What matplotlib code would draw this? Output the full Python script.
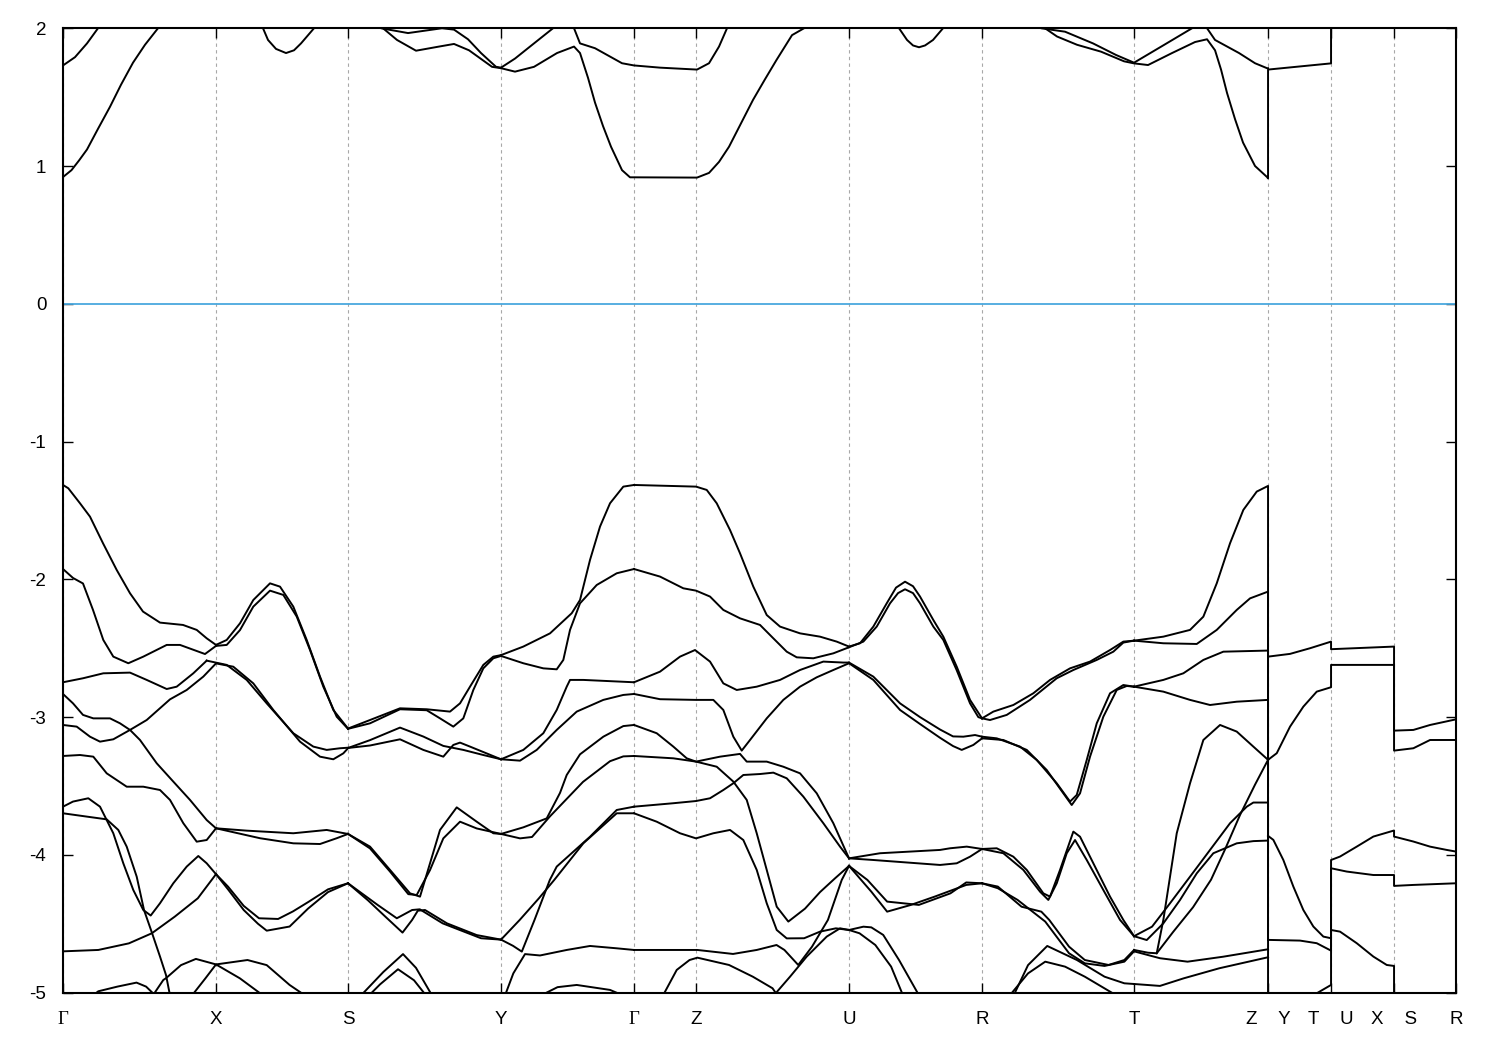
import matplotlib
matplotlib.use("Agg")
import matplotlib.pyplot as plt

plt.rcParams['font.family'] = ['Liberation Sans', 'DejaVu Sans']
plt.rcParams['axes.unicode_minus'] = False

# high-symmetry points along the k-path (arbitrary distance units)
kpts = [0.0, 1.53, 2.85, 4.38, 5.71, 6.33, 7.86, 9.19, 10.71, 12.05, 12.68, 13.31, 13.93]
klabels = ['Γ', 'X', 'S', 'Y', 'Γ', 'Z', 'U', 'R', 'T', 'Z    Y', 'T    U', 'X    S', 'R']

# ---- conduction bands (k, E) ----
cb_g1 = [(0.00, 1.73), (0.12, 1.79), (0.24, 1.89), (0.35, 2.00), (0.45, 2.10)]
cb_g2 = [(0.00, 0.92), (0.085, 0.97), (0.16, 1.04), (0.24, 1.12), (0.35, 1.27), (0.47, 1.43), (0.58, 1.59),
         (0.70, 1.75), (0.82, 1.88), (0.95, 2.00), (1.05, 2.10)]
cb_xs = [(1.93, 2.10), (2.00, 2.00), (2.05, 1.915), (2.13, 1.85), (2.23, 1.82), (2.31, 1.84), (2.38, 1.89),
         (2.51, 2.00), (2.58, 2.10)]
cb_sy1 = [(3.10, 2.10), (3.18, 2.00), (3.45, 1.965), (3.79, 2.00), (3.91, 1.99), (4.05, 1.92), (4.18, 1.82),
          (4.33, 1.72), (4.38, 1.714)]
cb_sy2 = [(3.15, 2.10), (3.20, 2.00), (3.34, 1.915), (3.53, 1.837), (3.76, 1.867), (3.91, 1.886), (4.06, 1.84),
          (4.29, 1.72), (4.38, 1.71)]
cb_yg = [(4.38, 1.714), (4.52, 1.78), (4.67, 1.867), (4.90, 2.00), (5.00, 2.10)]
cb_low = [(4.38, 1.71), (4.52, 1.685), (4.71, 1.72), (4.94, 1.82), (5.11, 1.867), (5.17, 1.82), (5.25, 1.64),
          (5.32, 1.46), (5.40, 1.29), (5.48, 1.14), (5.59, 0.97), (5.67, 0.918), (5.71, 0.918), (6.34, 0.916),
          (6.46, 0.95), (6.56, 1.03), (6.66, 1.14), (6.78, 1.31), (6.90, 1.48), (7.02, 1.63), (7.135, 1.77),
          (7.29, 1.95), (7.41, 2.00), (7.50, 2.08)]
cb_gz = [(5.08, 2.05), (5.11, 2.00), (5.17, 1.89), (5.32, 1.855), (5.59, 1.746), (5.71, 1.73), (5.97, 1.714),
         (6.34, 1.70), (6.46, 1.746), (6.56, 1.867), (6.64, 2.00), (6.70, 2.10)]
cb_ur = [(8.30, 2.10), (8.36, 2.00), (8.44, 1.915), (8.50, 1.875), (8.56, 1.862), (8.62, 1.875), (8.70, 1.915),
         (8.80, 2.00), (8.86, 2.10)]
cb_rt1 = [(9.70, 2.10), (9.78, 2.00), (10.02, 1.975), (10.30, 1.89), (10.53, 1.806), (10.71, 1.75),
          (11.01, 1.879), (11.29, 2.00), (11.40, 2.10)]
cb_rt2 = [(9.74, 2.10), (9.82, 2.00), (9.94, 1.94), (10.14, 1.88), (10.38, 1.83), (10.61, 1.76), (10.71, 1.745),
          (10.85, 1.733), (11.09, 1.82), (11.32, 1.90), (11.44, 1.92), (11.52, 1.84), (11.58, 1.70),
          (11.64, 1.53), (11.72, 1.34), (11.80, 1.17), (11.92, 1.00), (12.04, 0.92), (12.05, 0.91),
          (12.05, 1.70), (12.68, 1.745), (12.68, 2.20)]
cb_tz = [(11.40, 2.05), (11.44, 2.00), (11.52, 1.915), (11.76, 1.82), (11.92, 1.746), (12.04, 1.71), (12.05, 1.71)]

# ---- valence bands: Gamma - X ----
vgx1 = [(0.00, -1.315), (0.053, -1.339), (0.17, -1.448), (0.27, -1.545), (0.40, -1.738), (0.537, -1.932),
        (0.67, -2.101), (0.80, -2.234), (0.97, -2.314), (1.20, -2.331), (1.337, -2.367), (1.437, -2.428),
        (1.53, -2.476)]
vgx2 = [(0.00, -1.925), (0.10, -1.99), (0.20, -2.03), (0.30, -2.222), (0.403, -2.44), (0.503, -2.561),
        (0.653, -2.609), (0.803, -2.561), (1.037, -2.476), (1.17, -2.476), (1.42, -2.542), (1.53, -2.483)]
vgx3 = [(0.00, -2.747), (0.20, -2.718), (0.403, -2.682), (0.67, -2.677), (0.837, -2.73), (1.037, -2.796),
        (1.137, -2.779), (1.303, -2.682), (1.437, -2.59)]
vgx4 = [(0.00, -3.057), (0.137, -3.069), (0.27, -3.142), (0.37, -3.178), (0.503, -3.161), (0.67, -3.093),
        (0.837, -3.021), (1.07, -2.871), (1.237, -2.803), (1.403, -2.706), (1.53, -2.61)]
vgx5 = [(0.00, -2.832), (0.10, -2.90), (0.20, -2.984), (0.303, -3.009), (0.47, -3.009), (0.57, -3.045),
        (0.67, -3.093), (0.77, -3.166), (0.937, -3.335), (1.103, -3.468), (1.27, -3.601), (1.437, -3.747),
        (1.53, -3.807)]
vgx6 = [(0.00, -3.282), (0.17, -3.275), (0.303, -3.287), (0.437, -3.408), (0.637, -3.505), (0.803, -3.505),
        (0.97, -3.529), (1.07, -3.601), (1.203, -3.77), (1.337, -3.904), (1.437, -3.892), (1.53, -3.807)]
vgx7 = [(0.00, -3.65), (0.10, -3.613), (0.253, -3.589), (0.37, -3.65), (0.503, -3.843), (0.603, -4.061),
        (0.703, -4.255), (0.803, -4.40), (0.877, -4.44), (0.97, -4.351), (1.103, -4.206), (1.237, -4.085),
        (1.353, -4.008), (1.437, -4.061), (1.53, -4.14)]
vgx8 = [(0.00, -3.698), (0.237, -3.722), (0.437, -3.742), (0.553, -3.819), (0.637, -3.94), (0.737, -4.158),
        (0.81, -4.40), (0.887, -4.56), (0.97, -4.738), (1.03, -4.872), (1.07, -5.02)]
vgx9 = [(0.00, -4.70), (0.353, -4.69), (0.659, -4.642), (0.888, -4.569), (1.118, -4.448), (1.348, -4.315),
        (1.53, -4.14)]
vgx10 = [(0.30, -5.02), (0.353, -4.99), (0.544, -4.956), (0.735, -4.927), (0.831, -4.956), (0.908, -5.01),
         (1.003, -4.908), (1.03, -4.895), (1.18, -4.80), (1.329, -4.755), (1.53, -4.795), (1.769, -4.896),
         (2.00, -5.02)]
vgx11 = [(1.29, -5.02), (1.424, -4.896), (1.53, -4.795), (1.845, -4.763), (2.037, -4.80), (2.266, -4.944),
         (2.42, -5.02)]

# ---- X - S ----
vxs1 = [(1.53, -2.476), (1.637, -2.44), (1.77, -2.319), (1.903, -2.15), (2.07, -2.029), (2.17, -2.053),
        (2.303, -2.198), (2.437, -2.44), (2.57, -2.706), (2.703, -2.948), (2.85, -3.083)]
vxs2 = [(1.53, -2.483), (1.637, -2.476), (1.77, -2.368), (1.903, -2.198), (2.07, -2.082), (2.203, -2.113),
        (2.337, -2.27), (2.47, -2.513), (2.603, -2.779), (2.737, -2.997), (2.85, -3.085)]
vxs3 = [(1.437, -2.59), (1.637, -2.621), (1.837, -2.73), (2.037, -2.90), (2.303, -3.117), (2.503, -3.214),
        (2.637, -3.238), (2.77, -3.226), (2.85, -3.222)]
vxs4 = [(1.53, -2.61), (1.703, -2.634), (1.903, -2.755), (2.103, -2.948), (2.37, -3.178), (2.57, -3.287),
        (2.703, -3.306), (2.803, -3.263), (2.85, -3.226)]
vxs5 = [(1.53, -3.807), (1.837, -3.824), (2.303, -3.843), (2.637, -3.819), (2.85, -3.848)]
vxs6 = [(1.53, -3.807), (1.97, -3.879), (2.303, -3.916), (2.57, -3.921), (2.737, -3.879), (2.85, -3.848)]
vxs7 = [(1.53, -4.14), (1.65, -4.23), (1.807, -4.37), (1.96, -4.46), (2.151, -4.465), (2.30, -4.41),
        (2.457, -4.34), (2.65, -4.25), (2.85, -4.206)]
vxs8 = [(1.53, -4.14), (1.65, -4.25), (1.807, -4.40), (1.95, -4.50), (2.037, -4.55), (2.266, -4.52),
        (2.45, -4.39), (2.65, -4.27), (2.85, -4.206)]

# ---- S - Y ----
vsy1 = [(2.85, -3.083), (3.07, -3.021), (3.37, -2.936), (3.637, -2.943), (3.87, -2.96), (3.97, -2.90),
        (4.07, -2.779), (4.203, -2.621), (4.303, -2.561), (4.38, -2.55)]
vsy2 = [(2.85, -3.085), (3.07, -3.045), (3.37, -2.943), (3.637, -2.95), (3.77, -3.009), (3.903, -3.069),
        (4.003, -3.009), (4.103, -2.803), (4.203, -2.646), (4.303, -2.573), (4.38, -2.556)]
vsy3 = [(2.85, -3.224), (3.07, -3.167), (3.37, -3.076), (3.603, -3.141), (3.803, -3.209), (4.003, -3.238),
        (4.203, -3.275), (4.38, -3.306)]
vsy4 = [(2.85, -3.224), (3.07, -3.206), (3.37, -3.161), (3.603, -3.238), (3.803, -3.287), (3.903, -3.202),
        (3.97, -3.185), (4.07, -3.214), (4.38, -3.306)]
vsy5 = [(2.85, -3.848), (3.07, -3.94), (3.27, -4.109), (3.47, -4.279), (3.57, -4.303), (3.67, -4.061),
        (3.77, -3.819), (3.937, -3.655), (4.137, -3.759), (4.303, -3.843), (4.38, -3.848)]
vsy6 = [(2.85, -3.848), (3.07, -3.953), (3.27, -4.121), (3.453, -4.285), (3.537, -4.291), (3.67, -4.11),
        (3.803, -3.88), (3.97, -3.759), (4.137, -3.808), (4.38, -3.848)]
vsy7 = [(2.85, -4.206), (3.146, -4.363), (3.338, -4.46), (3.491, -4.40), (3.568, -4.395), (3.797, -4.497),
        (4.18, -4.605), (4.38, -4.615)]
vsy8 = [(2.85, -4.206), (3.05, -4.33), (3.223, -4.448), (3.395, -4.564), (3.491, -4.472), (3.548, -4.405),
        (3.62, -4.40), (3.84, -4.497), (4.137, -4.582), (4.38, -4.615)]
vsy9 = [(2.98, -5.02), (3.203, -4.85), (3.40, -4.72), (3.53, -4.82), (3.69, -5.02)]
vsy10 = [(3.06, -5.02), (3.17, -4.94), (3.35, -4.83), (3.51, -4.91), (3.63, -5.02)]

# ---- Y - Gamma ----
vyg1 = [(4.38, -2.55), (4.603, -2.488), (4.87, -2.392), (5.087, -2.246), (5.17, -2.15), (5.27, -1.859),
        (5.37, -1.617), (5.47, -1.448), (5.603, -1.327), (5.71, -1.315)]
vyg2 = [(4.38, -2.556), (4.603, -2.609), (4.803, -2.646), (4.937, -2.653), (5.003, -2.585), (5.07, -2.367),
        (5.17, -2.174), (5.337, -2.041), (5.537, -1.956), (5.71, -1.925)]
vyg3 = [(4.38, -3.306), (4.603, -3.238), (4.803, -3.117), (4.937, -2.948), (5.037, -2.779), (5.07, -2.73),
        (5.203, -2.73), (5.71, -2.747)]
vyg4 = [(4.38, -3.306), (4.57, -3.316), (4.737, -3.238), (4.937, -3.093), (5.137, -2.96), (5.403, -2.875),
        (5.603, -2.839), (5.71, -2.832)]
vyg5 = [(4.38, -3.848), (4.603, -3.80), (4.837, -3.735), (4.97, -3.55), (5.037, -3.42), (5.17, -3.27),
        (5.403, -3.142), (5.603, -3.065), (5.71, -3.057)]
vyg6 = [(4.38, -3.848), (4.57, -3.88), (4.69, -3.87), (4.87, -3.72), (5.20, -3.47), (5.47, -3.32),
        (5.603, -3.285), (5.71, -3.282)]
vyg7 = [(4.38, -4.615), (4.567, -4.472), (4.759, -4.315), (4.912, -4.182), (5.203, -3.916), (5.537, -3.698),
        (5.71, -3.698)]
vyg8 = [(4.38, -4.615), (4.50, -4.66), (4.588, -4.702), (4.715, -4.472), (4.868, -4.182), (4.937, -4.085),
        (5.27, -3.868), (5.537, -3.674), (5.71, -3.65)]
vyg9 = [(4.42, -5.02), (4.503, -4.86), (4.62, -4.72), (4.77, -4.73), (5.037, -4.69), (5.27, -4.661),
        (5.537, -4.678), (5.71, -4.69)]
vyg10 = [(4.78, -5.02), (4.945, -4.96), (5.137, -4.944), (5.47, -4.98), (5.60, -5.02)]

# ---- Gamma - Z - U ----
vzu1 = [(5.71, -1.315), (6.33, -1.327), (6.437, -1.351), (6.537, -1.448), (6.67, -1.642), (6.77, -1.811),
        (6.903, -2.053), (7.037, -2.259), (7.17, -2.343), (7.37, -2.392), (7.57, -2.416), (7.737, -2.452),
        (7.86, -2.488)]
vzu2 = [(5.71, -1.925), (5.97, -1.98), (6.203, -2.065), (6.33, -2.082), (6.47, -2.125), (6.603, -2.222),
        (6.77, -2.283), (6.97, -2.331), (7.103, -2.428), (7.237, -2.525), (7.337, -2.566), (7.503, -2.573),
        (7.703, -2.537), (7.86, -2.493)]
vzu3 = [(5.71, -2.747), (5.97, -2.67), (6.17, -2.561), (6.32, -2.513), (6.47, -2.597), (6.603, -2.755),
        (6.737, -2.803), (6.937, -2.779), (7.17, -2.73), (7.37, -2.658), (7.603, -2.597), (7.803, -2.604),
        (7.86, -2.604)]
vzu4 = [(5.71, -2.832), (5.97, -2.87), (6.33, -2.875), (6.503, -2.875), (6.603, -2.948), (6.703, -3.142),
        (6.787, -3.243), (6.87, -3.166), (7.037, -3.009), (7.203, -2.875), (7.37, -2.779), (7.537, -2.711),
        (7.703, -2.658), (7.86, -2.609)]
vzu5 = [(5.71, -3.057), (5.937, -3.117), (6.103, -3.214), (6.237, -3.299), (6.33, -3.323), (6.537, -3.36),
        (6.703, -3.468), (6.837, -3.601), (6.937, -3.843), (7.037, -4.109), (7.137, -4.376), (7.253, -4.484),
        (7.42, -4.39), (7.57, -4.27), (7.72, -4.17), (7.86, -4.08)]
vzu6 = [(5.71, -3.282), (6.103, -3.299), (6.33, -3.323), (6.57, -3.287), (6.77, -3.267), (6.837, -3.323),
        (7.037, -3.323), (7.203, -3.36), (7.37, -3.408), (7.537, -3.553), (7.703, -3.77), (7.837, -3.988),
        (7.86, -4.025)]
vzu7 = [(5.71, -3.65), (6.103, -3.625), (6.33, -3.609), (6.47, -3.589), (6.603, -3.529), (6.703, -3.48),
        (6.803, -3.42), (6.97, -3.413), (7.103, -3.403), (7.237, -3.444), (7.403, -3.577), (7.603, -3.77),
        (7.77, -3.94), (7.86, -4.025)]
vzu8 = [(5.71, -3.698), (5.937, -3.759), (6.17, -3.843), (6.33, -3.88), (6.503, -3.843), (6.67, -3.819),
        (6.803, -3.892), (6.937, -4.109), (7.037, -4.351), (7.137, -4.545), (7.237, -4.606), (7.411, -4.605),
        (7.57, -4.557), (7.728, -4.533), (7.86, -4.545)]
vzu9 = [(5.71, -4.69), (6.344, -4.69), (6.70, -4.719), (6.937, -4.69), (7.135, -4.654), (7.214, -4.69),
        (7.352, -4.799), (7.49, -4.666), (7.649, -4.472), (7.787, -4.182), (7.86, -4.08)]
vzu10 = [(6.00, -5.02), (6.137, -4.835), (6.265, -4.763), (6.344, -4.746), (6.66, -4.799), (6.898, -4.884),
         (7.095, -4.968), (7.135, -5.01)]
vzu11 = [(7.12, -5.01), (7.27, -4.884), (7.437, -4.738), (7.637, -4.593), (7.77, -4.533), (7.86, -4.545)]

# ---- U - R ----
vur1 = [(7.86, -2.488), (7.97, -2.464), (8.103, -2.343), (8.237, -2.174), (8.33, -2.06), (8.42, -2.017),
        (8.50, -2.05), (8.57, -2.125), (8.703, -2.295), (8.803, -2.416), (8.937, -2.634), (9.07, -2.875),
        (9.19, -3.009)]
vur2 = [(7.86, -2.493), (8.003, -2.452), (8.137, -2.343), (8.27, -2.174), (8.35, -2.10), (8.42, -2.072),
        (8.50, -2.10), (8.57, -2.174), (8.703, -2.343), (8.803, -2.44), (8.937, -2.66), (9.07, -2.90),
        (9.153, -3.00), (9.19, -3.009)]
vur3 = [(7.86, -2.604), (8.103, -2.706), (8.37, -2.90), (8.57, -3.00), (8.77, -3.09), (8.90, -3.14),
        (9.003, -3.142), (9.12, -3.13), (9.19, -3.142)]
vur4 = [(7.86, -2.609), (8.103, -2.73), (8.37, -2.948), (8.57, -3.05), (8.77, -3.15), (8.90, -3.21),
        (8.987, -3.238), (9.103, -3.202), (9.19, -3.154)]
vur5 = [(7.86, -4.025), (8.17, -3.988), (8.77, -3.964), (8.87, -3.952), (9.037, -3.94), (9.19, -3.957)]
vur6 = [(7.86, -4.025), (8.103, -4.037), (8.77, -4.073), (8.937, -4.061), (9.07, -4.013), (9.19, -3.957)]
vur7 = [(7.86, -4.08), (8.083, -4.267), (8.241, -4.412), (8.479, -4.363), (8.716, -4.303), (9.032, -4.218),
        (9.19, -4.206)]
vur8 = [(7.86, -4.08), (8.044, -4.182), (8.241, -4.339), (8.558, -4.363), (8.874, -4.279), (9.032, -4.20),
        (9.19, -4.206)]
vur9 = [(7.86, -4.545), (8.004, -4.521), (8.083, -4.526), (8.202, -4.581), (8.36, -4.763), (8.56, -5.02)]
vur10 = [(7.86, -4.545), (7.965, -4.569), (8.123, -4.654), (8.281, -4.811), (8.40, -5.02)]

# ---- R - T ----
vrt1 = [(9.19, -3.009), (9.27, -3.021), (9.437, -2.984), (9.67, -2.875), (9.937, -2.718), (10.103, -2.658),
        (10.337, -2.585), (10.503, -2.525), (10.603, -2.459), (10.71, -2.445)]
vrt2 = [(9.19, -3.009), (9.303, -2.96), (9.503, -2.912), (9.703, -2.827), (9.87, -2.73), (10.07, -2.646),
        (10.27, -2.597), (10.47, -2.513), (10.603, -2.452), (10.71, -2.445)]
vrt3 = [(9.19, -3.142), (9.337, -3.154), (9.57, -3.214), (9.737, -3.311), (9.937, -3.48), (10.07, -3.613),
        (10.137, -3.565), (10.237, -3.311), (10.337, -3.045), (10.47, -2.827), (10.603, -2.767), (10.71, -2.779)]
vrt4 = [(9.19, -3.154), (9.403, -3.166), (9.637, -3.238), (9.837, -3.384), (10.003, -3.553), (10.087, -3.638),
        (10.17, -3.553), (10.27, -3.287), (10.403, -2.997), (10.537, -2.803), (10.637, -2.774), (10.71, -2.779)]
vrt5 = [(9.19, -3.957), (9.337, -3.952), (9.503, -4.013), (9.637, -4.109), (9.803, -4.279), (9.87, -4.303),
        (9.97, -4.109), (10.103, -3.831), (10.17, -3.868), (10.303, -4.061), (10.47, -4.303), (10.603, -4.472),
        (10.71, -4.59)]
vrt6 = [(9.19, -3.957), (9.403, -3.988), (9.603, -4.109), (9.77, -4.267), (9.853, -4.327), (9.937, -4.206),
        (10.037, -3.988), (10.12, -3.892), (10.237, -4.037), (10.403, -4.255), (10.57, -4.472), (10.71, -4.59)]
vrt7 = [(9.19, -4.206), (9.348, -4.23), (9.585, -4.376), (9.783, -4.412), (9.862, -4.472), (10.06, -4.666),
        (10.218, -4.763), (10.455, -4.799), (10.613, -4.763), (10.71, -4.69)]
vrt8 = [(9.19, -4.206), (9.348, -4.242), (9.546, -4.327), (9.822, -4.484), (10.06, -4.714), (10.218, -4.787),
        (10.415, -4.806), (10.613, -4.775), (10.71, -4.70)]
vrt9 = [(9.506, -5.02), (9.65, -4.80), (9.842, -4.661), (10.139, -4.763), (10.415, -4.884), (10.613, -4.932),
        (10.71, -4.937)]
vrt10 = [(9.467, -5.02), (9.65, -4.86), (9.822, -4.775), (10.02, -4.811), (10.218, -4.884), (10.534, -5.02)]

# ---- T - Z ----
vtz1 = [(10.71, -2.445), (11.003, -2.416), (11.27, -2.367), (11.403, -2.271), (11.537, -2.029), (11.67, -1.738),
        (11.803, -1.496), (11.937, -1.363), (12.05, -1.322), (12.05, -2.561)]
vtz2 = [(10.71, -2.445), (11.003, -2.464), (11.337, -2.469), (11.537, -2.367), (11.737, -2.222), (11.87, -2.138),
        (12.05, -2.089), (12.05, -3.31)]
vtz3 = [(10.71, -2.779), (11.003, -2.73), (11.203, -2.682), (11.403, -2.585), (11.603, -2.525), (12.05, -2.517),
        (12.05, -3.862)]
vtz4 = [(10.71, -2.779), (11.003, -2.815), (11.27, -2.875), (11.47, -2.912), (11.737, -2.888), (12.05, -2.875),
        (12.05, -4.617)]
vtz5 = [(10.71, -4.59), (10.89, -4.521), (11.07, -4.351), (11.27, -4.158), (11.47, -3.964), (11.67, -3.77),
        (11.837, -3.65), (11.903, -3.62), (12.05, -3.62), (12.05, -5.20)]
vtz6 = [(10.71, -4.59), (10.837, -4.618), (11.003, -4.497), (11.17, -4.327), (11.337, -4.134), (11.503, -3.988),
        (11.737, -3.916), (11.903, -3.90), (12.05, -3.896)]
vtz7 = [(10.71, -4.69), (10.85, -4.71), (10.937, -4.714), (11.003, -4.472), (11.137, -3.843), (11.27, -3.48),
        (11.403, -3.166), (11.57, -3.057), (11.737, -3.105), (11.903, -3.214), (12.05, -3.31)]
vtz8 = [(10.937, -4.714), (11.10, -4.56), (11.30, -4.38), (11.48, -4.18), (11.62, -3.96), (11.77, -3.71),
        (11.92, -3.49), (12.05, -3.31)]
vtz9 = [(10.71, -4.70), (10.969, -4.75), (11.245, -4.775), (11.601, -4.739), (12.05, -4.685)]
vtz10 = [(10.71, -4.937), (10.969, -4.951), (11.206, -4.896), (11.562, -4.823), (12.05, -4.743)]

# ---- Y - T | U - X | S - R ----
vrr1 = [(12.05, -2.561), (12.27, -2.541), (12.47, -2.50), (12.68, -2.452), (12.68, -2.507), (13.31, -2.488),
        (13.31, -3.098), (13.503, -3.093), (13.67, -3.057), (13.93, -3.016)]
vrr2 = [(12.05, -3.31), (12.137, -3.262), (12.27, -3.069), (12.403, -2.924), (12.537, -2.815), (12.68, -2.783),
        (12.68, -2.621), (13.31, -2.621), (13.31, -3.243), (13.503, -3.226), (13.67, -3.166), (13.93, -3.166)]
vrr3 = [(12.05, -3.862), (12.103, -3.891), (12.203, -4.037), (12.303, -4.23), (12.403, -4.40), (12.503, -4.52),
        (12.603, -4.593), (12.68, -4.605), (12.68, -4.037), (12.77, -4.012), (12.937, -3.94), (13.103, -3.867),
        (13.31, -3.823), (13.31, -3.867), (13.503, -3.903), (13.67, -3.94), (13.837, -3.964), (13.93, -3.976)]
vrr4 = [(12.05, -4.617), (12.37, -4.622), (12.537, -4.641), (12.68, -4.695), (12.68, -4.097), (12.837, -4.121),
        (13.103, -4.146), (13.31, -4.146), (13.31, -4.225), (13.503, -4.218), (13.93, -4.206)]
vrr5 = [(12.50, -5.02), (12.68, -4.944), (12.68, -4.545), (12.77, -4.557), (12.937, -4.641), (13.103, -4.738),
        (13.237, -4.799), (13.31, -4.806), (13.31, -5.20)]

bands = [cb_g1, cb_g2, cb_xs, cb_sy1, cb_sy2, cb_yg, cb_low, cb_gz, cb_ur, cb_rt1, cb_rt2, cb_tz,
         vgx1, vgx2, vgx3, vgx4, vgx5, vgx6, vgx7, vgx8, vgx9, vgx10, vgx11,
         vxs1, vxs2, vxs3, vxs4, vxs5, vxs6, vxs7, vxs8,
         vsy1, vsy2, vsy3, vsy4, vsy5, vsy6, vsy7, vsy8, vsy9, vsy10,
         vyg1, vyg2, vyg3, vyg4, vyg5, vyg6, vyg7, vyg8, vyg9, vyg10,
         vzu1, vzu2, vzu3, vzu4, vzu5, vzu6, vzu7, vzu8, vzu9, vzu10, vzu11,
         vur1, vur2, vur3, vur4, vur5, vur6, vur7, vur8, vur9, vur10,
         vrt1, vrt2, vrt3, vrt4, vrt5, vrt6, vrt7, vrt8, vrt9, vrt10,
         vtz1, vtz2, vtz3, vtz4, vtz5, vtz6, vtz7, vtz8, vtz9, vtz10,
         vrr1, vrr2, vrr3, vrr4, vrr5]

fig = plt.figure(figsize=(15, 10.5), dpi=100)
ax = fig.add_axes([0.042, 0.0546, 0.9287, 0.9185])

for b in bands:
    k, e = zip(*b)
    ax.plot(k, e, color='black', linewidth=1.4, solid_joinstyle='round')

# Fermi level
ax.axhline(0.0, color='#4aa8de', linewidth=1.3)

ax.set_xlim(kpts[0], kpts[-1])
ax.set_ylim(-5, 2)
ax.set_xticks(kpts)
ax.set_xticklabels(klabels)
ax.set_yticks(range(-5, 3))
for lbl in ax.get_xticklabels():
    if lbl.get_text() == 'Γ':
        lbl.set_fontfamily('Liberation Serif')
        lbl.set_fontsize(15.5)

ax.grid(axis='x', color='#a8a8a8', linestyle=(0, (3, 3)), linewidth=0.8)
ax.set_axisbelow(True)
ax.tick_params(direction='in', top=True, right=True, length=7, width=1.0, labelsize=13.5)
ax.tick_params(axis='x', pad=13)
ax.tick_params(axis='y', pad=12)
for s in ax.spines.values():
    s.set_linewidth(1.5)

plt.savefig('out.png', dpi=100)
